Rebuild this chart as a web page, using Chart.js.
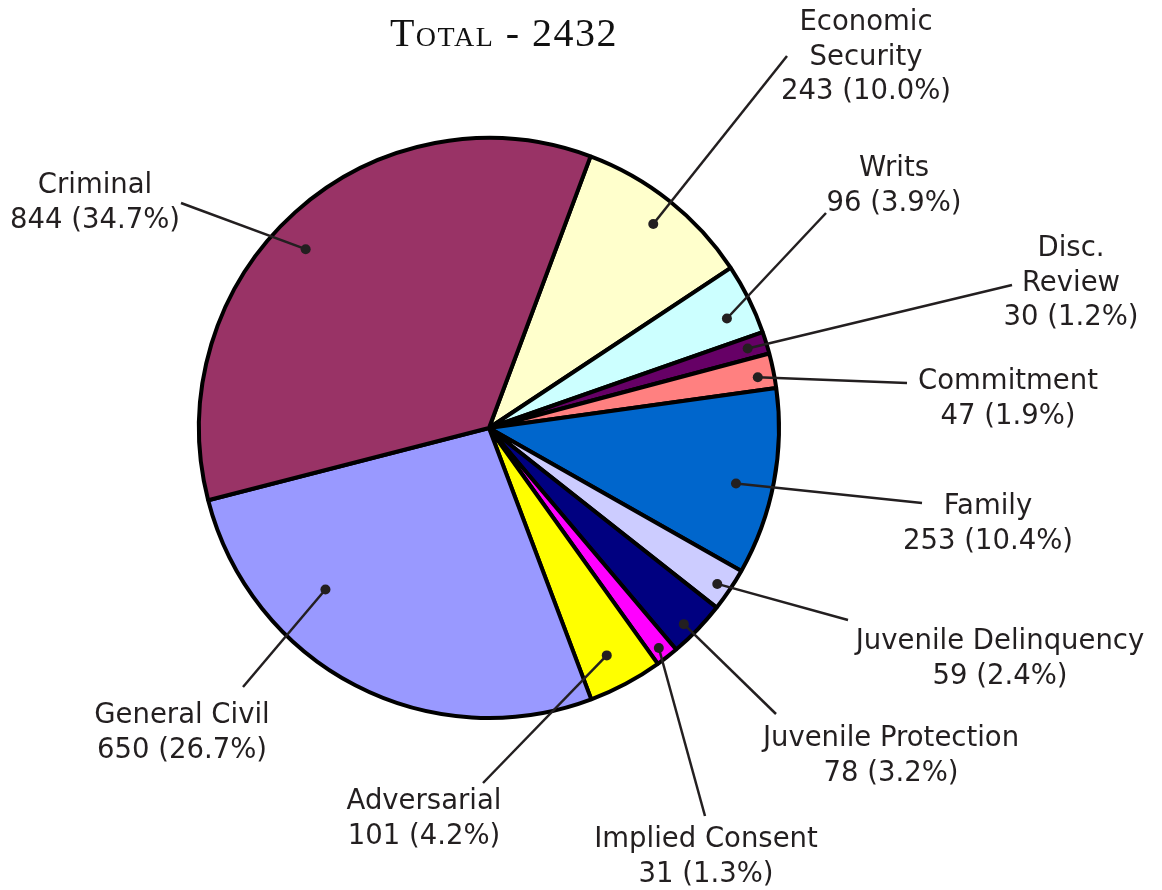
<!DOCTYPE html>
<html>
<head>
<meta charset="utf-8">
<script src="https://cdn.jsdelivr.net/npm/chart.js@4.4.0/dist/chart.umd.min.js"></script>
<style>
  body { margin: 0; background: #fff; }
  #wrap { width: 1162px; height: 890px; }
</style>
</head>
<body>
<div id="wrap"><canvas id="pie" width="1162" height="890"></canvas></div>
<script>
// case types, clockwise from the top
const categories = ['Economic\nSecurity', 'Writs', 'Disc.\nReview', 'Commitment', 'Family',
  'Juvenile Delinquency', 'Juvenile Protection', 'Implied Consent', 'Adversarial',
  'General Civil', 'Criminal'];
const counts = [243, 96, 30, 47, 253, 59, 78, 31, 101, 650, 844];
const sliceColors = ['#FFFFCC', '#CCFFFF', '#660066', '#FF8080', '#0066CC',
  '#CCCCFF', '#000080', '#FF00FF', '#FFFF00', '#9999FF', '#993366'];

// where each label sits: text centre x, first line centre y, leader end x/y,
// dot position inside the slice (fraction along arc, fraction of radius)
const labelPos = [
  { x: 866, y: 23, ex: 787, ey: 56, t: 0.51, r: 0.90 },
  { x: 894, y: 169, ex: 826, ey: 213, t: 0.62, r: 0.90 },
  { x: 1071, y: 249, ex: 1012, ey: 285, t: 0.5, r: 0.93 },
  { x: 1008, y: 382, ex: 907, ey: 383, t: 0.6, r: 0.94 },
  { x: 988, y: 507, ex: 922, ey: 503, t: 0.55, r: 0.87 },
  { x: 1000, y: 642, ex: 848, ey: 620, t: 0.55, r: 0.95 },
  { x: 891, y: 739, ex: 776, ey: 714, t: 0.6, r: 0.95 },
  { x: 706, y: 840, ex: 705, ey: 816, t: 0.55, r: 0.955 },
  { x: 424, y: 802, ex: 483, ey: 783, t: 0.55, r: 0.88 },
  { x: 182, y: 716, ex: 243, ey: 687, t: 0.686, r: 0.79 },
  { x: 95, y: 186, ex: 181, ey: 203, t: 0.47, r: 0.88 }
];

const total = counts.reduce((a, b) => a + b, 0);
const textColor = '#231f20';

const labelPlugin = {
  id: 'labels',
  afterDatasetsDraw(chart) {
    const ctx = chart.ctx;
    const arcs = chart.getDatasetMeta(0).data;
    ctx.save();
    // title in small caps
    ctx.fillStyle = '#111';
    ctx.textAlign = 'center';
    ctx.textBaseline = 'alphabetic';
    ctx.font = "small-caps 40px 'Liberation Serif'";
    ctx.letterSpacing = '1.5px';
    ctx.fillText('Total - ' + total, 504, 46);
    ctx.letterSpacing = '0px';

    ctx.fillStyle = textColor;
    ctx.font = "27.5px 'DejaVu Sans'";
    ctx.textBaseline = 'middle';
    arcs.forEach(function (arc, i) {
      const p = labelPos[i];
      const a = arc.startAngle + (arc.endAngle - arc.startAngle) * p.t;
      const dx = arc.x + Math.cos(a) * 291 * p.r;
      const dy = arc.y + Math.sin(a) * 291 * p.r;
      ctx.strokeStyle = textColor;
      ctx.lineWidth = 2.5;
      ctx.beginPath();
      ctx.moveTo(dx, dy);
      ctx.lineTo(p.ex, p.ey);
      ctx.stroke();
      ctx.beginPath();
      ctx.arc(dx, dy, 5, 0, Math.PI * 2);
      ctx.fill();

      const pct = (counts[i] / total * 100).toFixed(1);
      const lines = categories[i].split('\n').concat([counts[i] + ' (' + pct + '%)']);
      lines.forEach(function (ln, k) {
        ctx.fillText(ln, p.x, p.y + k * 34.5);
      });
    });
    ctx.restore();
  }
};

new Chart(document.getElementById('pie'), {
  type: 'pie',
  data: {
    labels: categories,
    datasets: [{
      data: counts,
      backgroundColor: sliceColors,
      borderColor: '#000',
      borderWidth: 4,
      borderAlign: 'center'
    }]
  },
  options: {
    responsive: false,
    animation: false,
    rotation: 20.5,
    radius: 290,
    layout: { padding: { left: 100, right: 284, top: 100, bottom: 134 } },
    plugins: {
      legend: { display: false },
      tooltip: { enabled: false },
      title: { display: false }
    }
  },
  plugins: [labelPlugin]
});
</script>
</body>
</html>
